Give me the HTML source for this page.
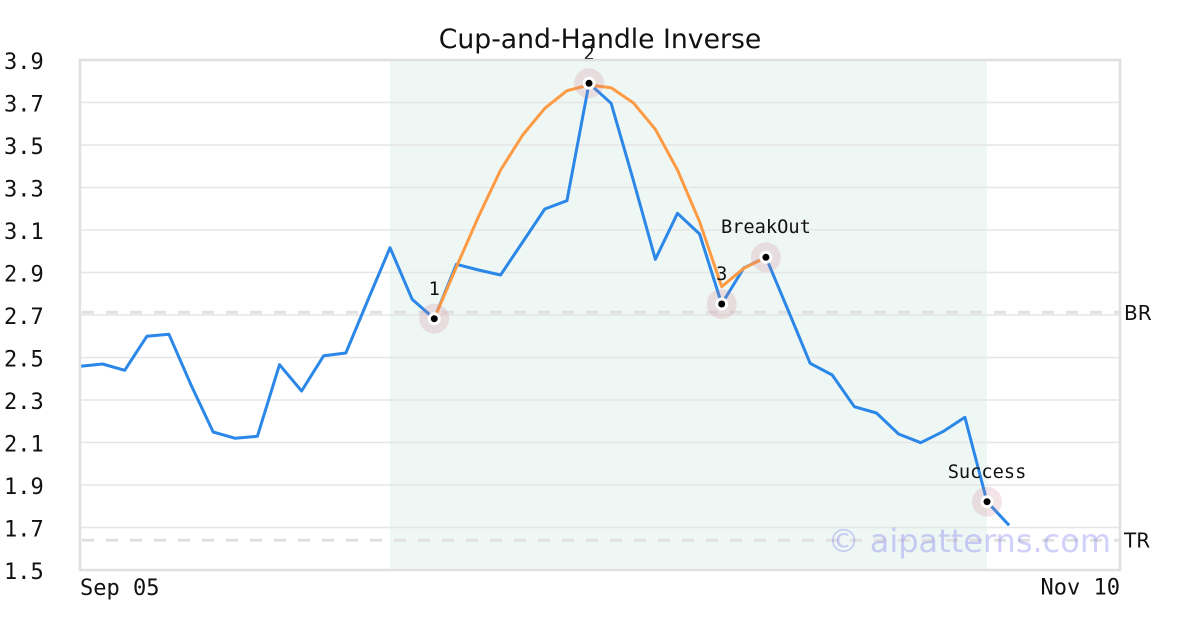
<!DOCTYPE html>
<html><head><meta charset="utf-8"><style>
html,body{margin:0;padding:0;background:#fff;}
svg{display:block;}
</style></head><body>
<svg width="1200" height="630" viewBox="0 0 1200 630" xmlns="http://www.w3.org/2000/svg">
<rect x="0" y="0" width="1200" height="630" fill="#fff"/>
<rect x="390" y="60" width="597" height="510" fill="#eff7f4"/>
<g stroke="#e6e6e6" stroke-width="1.5">
<line x1="81" y1="102.5" x2="1119" y2="102.5"/>
<line x1="81" y1="145" x2="1119" y2="145"/>
<line x1="81" y1="187.5" x2="1119" y2="187.5"/>
<line x1="81" y1="230" x2="1119" y2="230"/>
<line x1="81" y1="272.5" x2="1119" y2="272.5"/>
<line x1="81" y1="315" x2="1119" y2="315"/>
<line x1="81" y1="357.5" x2="1119" y2="357.5"/>
<line x1="81" y1="400" x2="1119" y2="400"/>
<line x1="81" y1="442.5" x2="1119" y2="442.5"/>
<line x1="81" y1="485" x2="1119" y2="485"/>
<line x1="81" y1="527.5" x2="1119" y2="527.5"/>
</g>
<g stroke="#e0e0e0" stroke-width="3" stroke-dasharray="12 12">
<line x1="82" y1="312.3" x2="1119" y2="312.3"/>
<line x1="82" y1="540.3" x2="1119" y2="540.3"/>
</g>
<polyline fill="none" stroke="#2b87e8" stroke-width="3" stroke-linejoin="round" points="80.5,366.3 102.61,364 124.72,370.3 146.83,336.3 168.94,334.3 191.05,385 213.16,432 235.27,438.3 257.38,436.3 279.49,364.7 301.6,391 323.71,355.7 345.82,353 367.93,300 390.04,247.7 412.15,299.3 434.26,318.7 456.37,264.3 478.48,270 500.59,275 522.7,242 544.81,209 566.92,200.7 589.03,83.3 611.14,103.3 633.25,180 655.36,259.3 677.47,213.3 699.58,234 721.69,304 743.8,268 765.91,257.3 788.02,310 810.13,363.3 832.24,375 854.35,406.7 876.46,413 898.57,434 920.68,442.7 942.79,431.7 964.9,417.3 987.01,501.7 1009.12,525.3"/>
<polyline fill="none" stroke="#fd9a44" stroke-width="3" stroke-linejoin="round" points="434.26,318.7 456.37,267 478.48,216.7 500.59,170 522.7,135 544.81,108.3 566.92,90.7 589.03,85 611.14,87.7 633.25,102.7 655.36,129.3 677.47,170 699.58,221.7 721.69,286.7 743.8,268.3 765.91,257.3"/>
<g>
<circle cx="434.26" cy="318.7" r="15" fill="rgba(200,120,140,0.2)"/>
<circle cx="589.03" cy="83.3" r="15" fill="rgba(200,120,140,0.2)"/>
<circle cx="721.69" cy="304" r="15" fill="rgba(200,120,140,0.2)"/>
<circle cx="765.91" cy="257.3" r="15" fill="rgba(200,120,140,0.2)"/>
<circle cx="987.01" cy="501.7" r="15" fill="rgba(200,120,140,0.2)"/>
</g>
<g fill="#fff">
<circle cx="434.26" cy="318.7" r="6.5"/>
<circle cx="589.03" cy="83.3" r="6.5"/>
<circle cx="721.69" cy="304" r="6.5"/>
<circle cx="765.91" cy="257.3" r="6.5"/>
<circle cx="987.01" cy="501.7" r="6.5"/>
</g>
<g fill="#000">
<circle cx="434.26" cy="318.7" r="3.5"/>
<circle cx="589.03" cy="83.3" r="3.5"/>
<circle cx="721.69" cy="304" r="3.5"/>
<circle cx="765.91" cy="257.3" r="3.5"/>
<circle cx="987.01" cy="501.7" r="3.5"/>
</g>
<g font-family="'DejaVu Sans Mono','Liberation Mono',monospace" font-size="18.67" fill="#111" text-anchor="middle">
<text x="434.26" y="295">1</text>
<text x="589.03" y="59.5">2</text>
<text x="721.69" y="280">3</text>
<text x="765.91" y="233">BreakOut</text>
<text x="987.01" y="478">Success</text>
</g>
<text x="1111" y="552" font-family="'DejaVu Sans','Liberation Sans',sans-serif" font-size="32" fill="rgba(100,100,240,0.3)" text-anchor="end">© aipatterns.com</text>
<rect x="80" y="60" width="1040" height="510" fill="none" stroke="#e0e0e0" stroke-width="2.5"/>
<text x="600" y="48" font-family="'DejaVu Sans','Liberation Sans',sans-serif" font-size="26.67" fill="#111" text-anchor="middle">Cup-and-Handle Inverse</text>
<g font-family="'DejaVu Sans Mono','Liberation Mono',monospace" font-size="22" fill="#111">
<text x="4" y="69">3.9</text>
<text x="4" y="111.5">3.7</text>
<text x="4" y="154">3.5</text>
<text x="4" y="196.5">3.3</text>
<text x="4" y="239">3.1</text>
<text x="4" y="281.5">2.9</text>
<text x="4" y="324">2.7</text>
<text x="4" y="366.5">2.5</text>
<text x="4" y="409">2.3</text>
<text x="4" y="451.5">2.1</text>
<text x="4" y="494">1.9</text>
<text x="4" y="536.5">1.7</text>
<text x="4" y="579">1.5</text>
<text x="80" y="595">Sep 05</text>
<text x="1120" y="594.5" text-anchor="end">Nov 10</text>
</g>
<g font-family="'DejaVu Sans','Liberation Sans',sans-serif" font-size="20" fill="#111">
<text x="1124" y="320">BR</text>
<text x="1124" y="547.5">TR</text>
</g>
</svg>
</body></html>
